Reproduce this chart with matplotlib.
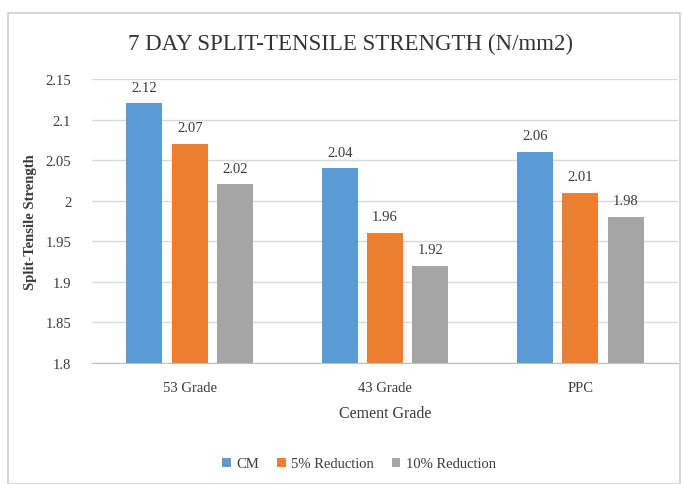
import matplotlib
matplotlib.use("Agg")
import matplotlib.pyplot as plt
import numpy as np
from matplotlib.patches import Rectangle

categories = ["53 Grade", "43 Grade", "PPC"]
series_names = ["CM", "5% Reduction", "10% Reduction"]
cm = [2.12, 2.04, 2.06]
red5 = [2.07, 1.96, 2.01]
red10 = [2.02, 1.92, 1.98]
yticks = [1.8, 1.85, 1.9, 1.95, 2.0, 2.05, 2.1, 2.15]
ytick_labels = ["1.8", "1.85", "1.9", "1.95", "2", "2.05", "2.1", "2.15"]

colors = ["#5B9BD5", "#ED7D31", "#A5A5A5"]
plt.rcParams['font.family'] = ['Liberation Serif', 'DejaVu Serif']
txt = "#3A3A3A"

fig = plt.figure(figsize=(6.84, 4.85), dpi=100)
fig.patches.append(Rectangle((8/684, 0.0), (672)/684, 1 - 14/485, transform=fig.transFigure,
                             fill=False, edgecolor="#D0D0D0", linewidth=1.2))
ax = fig.add_axes([92/684, 1 - 364/485, 586/684, 284/485])

x = np.arange(len(categories))
w = 0.185
offs = [-0.232, 0.0, 0.232]
for vals, off, col, name in zip([cm, red5, red10], offs, colors, series_names):
    bars = ax.bar(x + off, vals, w, color=col, label=name, zorder=3)
    for b, v in zip(bars, vals):
        ax.annotate(f"{v:g}", (b.get_x() + b.get_width()/2, v), xytext=(0, 7),
                    textcoords="offset points", ha="center", va="bottom",
                    fontsize=10.5, color=txt)

ax.set_ylim(1.8, 2.15)
ax.set_xlim(-0.5, 2.5)
ax.set_yticks(yticks)
ax.set_yticklabels(ytick_labels)
ax.set_xticks(x)
ax.set_xticklabels(categories)
ax.tick_params(axis='y', length=0, pad=15, labelsize=10.5, labelcolor=txt)
ax.tick_params(axis='x', length=0, pad=13, labelsize=10.5, labelcolor=txt)
ax.grid(axis='y', color="#D9D9D9", linewidth=1, zorder=0)
for s in ["top", "right", "left"]:
    ax.spines[s].set_visible(False)
ax.spines["bottom"].set_color("#BFBFBF")
ax.spines["bottom"].set_zorder(4)

ax.set_ylabel("Split-Tensile Strength", fontsize=10.5, fontweight="bold", color=txt)
ax.yaxis.set_label_coords(-(92 - 37) / 586, 0.5)
ax.set_xlabel("Cement Grade", fontsize=11.5, color=txt, labelpad=8)

fig.text(351/684, 1 - 44/485, "7 DAY SPLIT-TENSILE STRENGTH (N/mm2)", ha="center", va="center",
         fontsize=16.5, color="#333333")

leg = fig.legend(loc="center", bbox_to_anchor=(0.525, 1 - 465/485), ncol=3, frameon=False,
                 fontsize=10.5, handlelength=0.6, handleheight=0.6, handletextpad=0.4,
                 columnspacing=1.2)
for t in leg.get_texts():
    t.set_color(txt)

fig.savefig("out.png", dpi=100)
